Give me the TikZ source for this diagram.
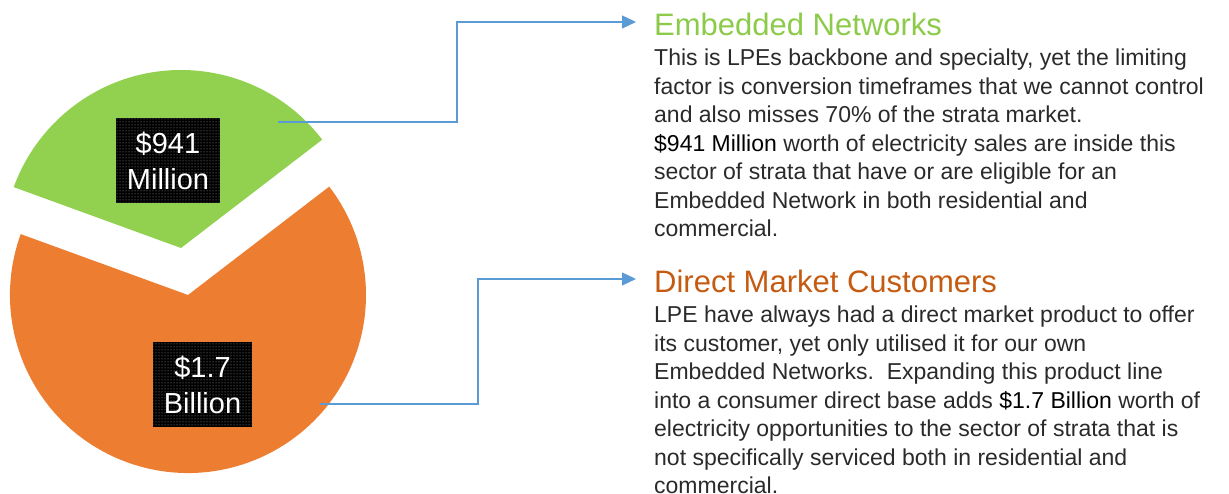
\documentclass[tikz,border=0pt]{standalone}
\usepackage{fontspec}
\setmainfont{Liberation Sans}
\usetikzlibrary{arrows.meta,patterns,calc}
\definecolor{pgreen}{HTML}{92D050}
\definecolor{porange}{HTML}{ED7D31}
\definecolor{tgreen}{HTML}{8CCB4A}
\definecolor{torange}{HTML}{C55A11}
\definecolor{ablue}{HTML}{5B9BD5}
\definecolor{bodytxt}{HTML}{2A2A2A}
\tikzset{
  lab/.style={fill=black, postaction={pattern=dots, pattern color=gray!70}, text=white,
    align=center, inner sep=0pt, font=\fontsize{29}{36}\selectfont},
  ttl/.style={anchor=west, inner xsep=18pt, inner ysep=0pt, font=\fontsize{31}{36}\selectfont},
  body/.style={anchor=base west, inner sep=0pt, align=left, text=bodytxt,
    font=\fontsize{23}{28.5}\selectfont},
  conn/.style={draw=ablue, line width=1.3pt, -{Triangle[length=14pt,width=13pt]}}
}
\newcommand{\hlt}[1]{\textcolor{black}{#1}}
\begin{document}
\begin{tikzpicture}[x=1pt,y=1pt]
\useasboundingbox (0,0) rectangle (1229,494);
\clip (0,0) rectangle (1229,494);
% pie
\coordinate (oc) at (188,199);
\coordinate (gc) at (181,246);
\fill[porange] (oc) -- ($(oc)+(160:178)$) arc[start angle=160, end angle=397.5, radius=178] -- cycle;
\fill[pgreen] (gc) -- ($(gc)+(37.5:178)$) arc[start angle=37.5, end angle=160, radius=178] -- cycle;
% labels
\node[lab, minimum width=104, minimum height=85] (l1) at (168,333.5) {\$941\\Million};
\node[lab, minimum width=99, minimum height=85] (l2) at (202.5,109.5) {\$1.7\\Billion};
% titles
\node[ttl, text=tgreen] (t1) at (636,472) {\rule{0pt}{27pt}Embedded Networks};
\node[ttl, text=torange] (t2) at (636,215) {\rule{0pt}{27pt}Direct Market Customers};
% bodies (anchor is the baseline of the last line)
\node[body] (b1) at (654,257) {This is LPEs backbone and specialty, yet the limiting\\
factor is conversion timeframes that we cannot control\\
and also misses 70\% of the strata market.\\
\hlt{\$941 Million} worth of electricity sales are inside this\\
sector of strata that have or are eligible for an\\
Embedded Network in both residential and\\
commercial.};
\node[body] (b2) at (654,0) {LPE have always had a direct market product to offer\\
its customer, yet only utilised it for our own\\
Embedded Networks.\ \ Expanding this product line\\
into a consumer direct base adds \hlt{\$1.7 Billion} worth of\\
electricity opportunities to the sector of strata that is\\
not specifically serviced both in residential and\\
commercial.};
% connectors
\coordinate (s1) at (278,372);
\coordinate (s2) at (320,90);
\draw[conn] (s1) -- (457,372) |- (t1.west);
\draw[conn] (s2) -- (478,90) |- (t2.west);
\end{tikzpicture}
\end{document}
